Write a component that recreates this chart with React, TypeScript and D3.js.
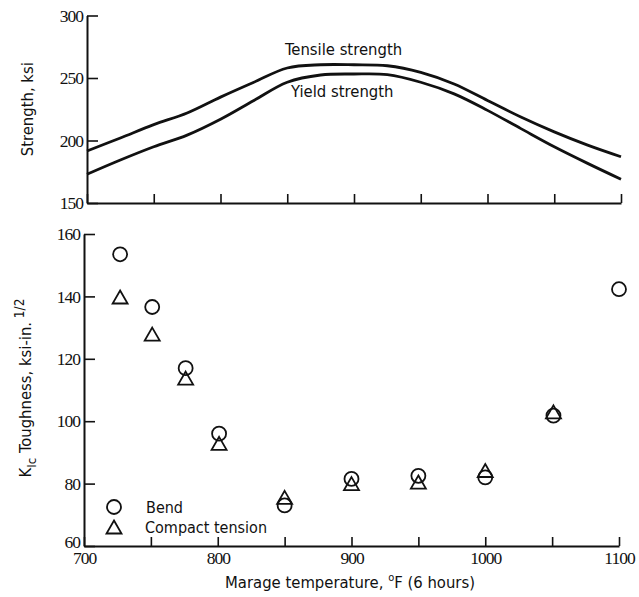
import React, { useEffect, useRef } from 'react';
import * as d3 from 'd3';

// strength curves
const curveTemps = [700, 725, 750, 775, 800, 825, 850, 875, 900, 925, 950, 975, 1000, 1025, 1050, 1075, 1100];
const tensile = [191.6, 202, 212.7, 222, 234.7, 246.6, 258, 260.6, 260.6, 259.8, 254.5, 245.2, 232, 218.8, 206.9, 196.3, 187];
const yieldStr = [173, 184.4, 195, 204.3, 217, 232, 246.6, 252.4, 253.2, 252.7, 246.6, 237.3, 224.1, 209.5, 195, 181.7, 169];

// toughness points
const bendTemps = [727, 751, 776, 801, 850, 900, 950, 1000, 1051, 1100];
const bendVals = [153.5, 136.6, 117, 96, 73, 81.5, 82.5, 82, 101.8, 142.3];
const ctTemps = [727, 751, 776, 801, 850, 900, 950, 1000, 1051];
const ctVals = [139.8, 127.9, 113.8, 92.9, 75.6, 80, 80.5, 84.2, 103];

const topYTicks = [150, 200, 250, 300];
const botYTicks = [60, 80, 100, 120, 140, 160];
const xTicks = [700, 750, 800, 850, 900, 950, 1000, 1050, 1100];
const xLabels = [700, 800, 900, 1000, 1100];

const SANS = '"DejaVu Sans Condensed", "DejaVu Sans", sans-serif';
const SERIF = '"Liberation Serif", "DejaVu Serif", serif';

const W = 639;
const H = 597;

const App = () => {
  const ref = useRef(null);

  useEffect(() => {
    const svg = d3.select(ref.current);
    svg.selectAll('*').remove();

    // --- upper panel ---
    const xTop = d3.scaleLinear().domain([700, 1100]).range([87, 621]);
    const yTop = d3.scaleLinear().domain([150, 300]).range([203, 15.5]);

    const gTopX = svg.append('g').attr('transform', `translate(0,${yTop(150)})`)
      .call(d3.axisBottom(xTop).tickValues(xTicks).tickSizeInner(-9).tickSizeOuter(0).tickFormat(() => ''));
    const gTopY = svg.append('g').attr('transform', `translate(${xTop(700)},0)`)
      .call(d3.axisLeft(yTop).tickValues(topYTicks).tickSizeInner(-11).tickSizeOuter(0).tickPadding(4));

    const line = (xs, ys, xsc, ysc) => d3.line()
      .x((d, i) => xsc(xs[i]))
      .y(d => ysc(d))
      .curve(d3.curveCatmullRom)(ys);

    svg.append('path').attr('d', line(curveTemps, tensile, xTop, yTop))
      .attr('fill', 'none').attr('stroke', '#111').attr('stroke-width', 2.8);
    svg.append('path').attr('d', line(curveTemps, yieldStr, xTop, yTop))
      .attr('fill', 'none').attr('stroke', '#111').attr('stroke-width', 2.8);

    svg.append('text').attr('x', 285).attr('y', 55).text('Tensile strength')
      .attr('font-family', SANS).attr('font-size', 16.5).attr('fill', '#111');
    svg.append('text').attr('x', 291).attr('y', 97).text('Yield strength')
      .attr('font-family', SANS).attr('font-size', 16.5).attr('fill', '#111');

    svg.append('text')
      .attr('transform', `translate(33,${yTop(225)}) rotate(-90)`)
      .attr('text-anchor', 'middle')
      .attr('font-family', SANS).attr('font-size', 16.5).attr('fill', '#111')
      .text('Strength, ksi');

    // --- lower panel ---
    const xBot = d3.scaleLinear().domain([700, 1100]).range([84, 619]);
    const yBot = d3.scaleLinear().domain([60, 160]).range([546, 234]);

    const gBotX = svg.append('g').attr('transform', `translate(0,${yBot(60)})`)
      .call(d3.axisBottom(xBot).tickValues(xTicks).tickSizeInner(-9).tickSizeOuter(0).tickPadding(6)
        .tickFormat(d => (xLabels.includes(d) ? String(d) : '')));
    const gBotY = svg.append('g').attr('transform', `translate(${xBot(700)},0)`)
      .call(d3.axisLeft(yBot).tickValues(botYTicks).tickSizeInner(-11).tickSizeOuter(0).tickPadding(4));

    [gTopX, gTopY, gBotX, gBotY].forEach(g => {
      g.select('.domain').attr('stroke', '#111').attr('stroke-width', 2);
      g.selectAll('.tick line').attr('stroke', '#111').attr('stroke-width', 1.6);
      g.selectAll('.tick text').attr('font-family', SERIF).attr('font-size', 17.5)
        .attr('letter-spacing', -1).attr('fill', '#111');
    });
    gBotY.select('.tick text').attr('dy', '0.1em');

    const g = svg.append('g').attr('fill', 'none').attr('stroke', '#111').attr('stroke-width', 1.8);
    g.selectAll('circle.bend').data(bendVals).join('circle')
      .attr('class', 'bend')
      .attr('cx', (d, i) => xBot(bendTemps[i]))
      .attr('cy', d => yBot(d))
      .attr('r', 7);

    const tri = (cx, cy) => {
      const p = d3.path();
      p.moveTo(cx, cy - 6.5);
      p.lineTo(cx + 7.5, cy + 6.5);
      p.lineTo(cx - 7.5, cy + 6.5);
      p.closePath();
      return p.toString();
    };
    g.selectAll('path.ct').data(ctVals).join('path')
      .attr('class', 'ct')
      .attr('d', (d, i) => tri(xBot(ctTemps[i]), yBot(d)));

    // legend
    const leg = svg.append('g');
    leg.append('circle').attr('cx', 114).attr('cy', 507).attr('r', 7)
      .attr('fill', 'none').attr('stroke', '#111').attr('stroke-width', 1.8);
    leg.append('path').attr('d', tri(114, 527))
      .attr('fill', 'none').attr('stroke', '#111').attr('stroke-width', 1.8);
    leg.append('text').attr('x', 146).attr('y', 513).text('Bend')
      .attr('font-family', SANS).attr('font-size', 16).attr('fill', '#111');
    leg.append('text').attr('x', 145).attr('y', 533).text('Compact tension')
      .attr('font-family', SANS).attr('font-size', 16).attr('fill', '#111');

    // y title with sub/superscript
    const yt = svg.append('text')
      .attr('transform', `translate(31,388) rotate(-90)`)
      .attr('text-anchor', 'middle')
      .attr('font-family', SANS).attr('font-size', 16.5).attr('fill', '#111');
    yt.append('tspan').text('K');
    yt.append('tspan').text('Ic').attr('font-size', 13).attr('dy', 5);
    yt.append('tspan').text('  Toughness, ksi-in.').attr('dy', -5);
    yt.append('tspan').text(' 1/2').attr('font-size', 13.5).attr('dy', -7);

    // x title
    const xt = svg.append('text').attr('x', 350).attr('y', 588)
      .attr('text-anchor', 'middle')
      .attr('font-family', SANS).attr('font-size', 16.5).attr('fill', '#111');
    xt.append('tspan').text('Marage temperature,  ');
    xt.append('tspan').text('o').attr('font-size', 11).attr('dy', -7);
    xt.append('tspan').text('F (6 hours)').attr('dy', 7);
  }, []);

  return (
    <svg ref={ref} width={W} height={H}
      style={{ position: 'absolute', left: 0, top: 0, background: '#fff' }} />
  );
};

export default App;
